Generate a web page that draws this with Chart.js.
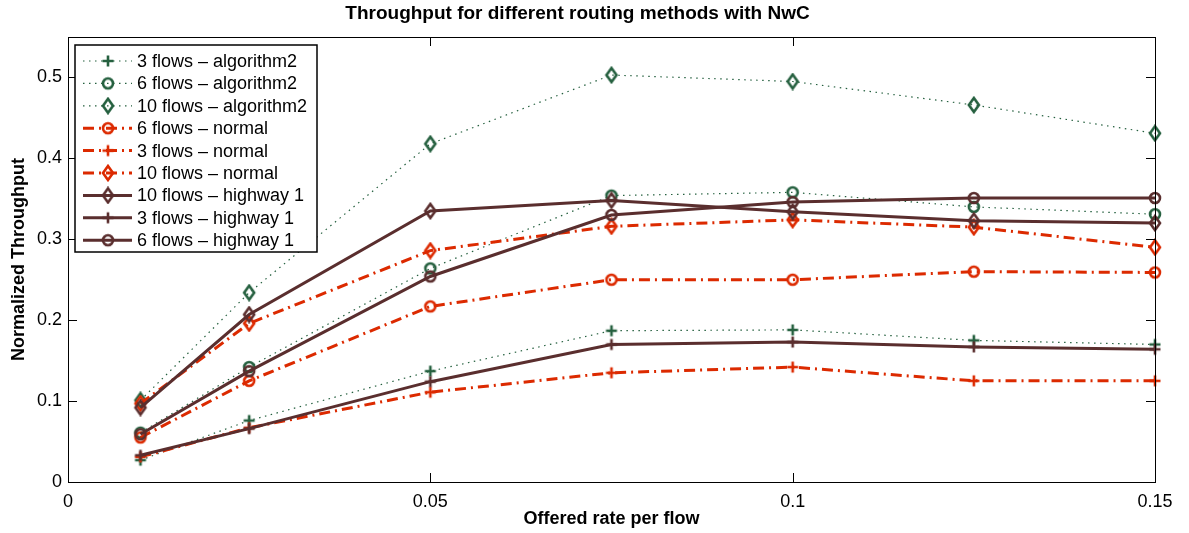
<!DOCTYPE html>
<html>
<head>
<meta charset="utf-8">
<script src="https://cdn.jsdelivr.net/npm/chart.js@4.4.1/dist/chart.umd.min.js"></script>
<style>
  html, body { margin: 0; padding: 0; background: #fff; }
</style>
</head>
<body>
<canvas id="c" width="1189" height="533"></canvas>
<script>
// offered rate per flow
var rates = [0.01, 0.025, 0.05, 0.075, 0.1, 0.125, 0.15];

var alg3  = [0.027, 0.076, 0.137, 0.187, 0.188, 0.175, 0.170];
var alg6  = [0.061, 0.142, 0.264, 0.354, 0.358, 0.340, 0.331];
var alg10 = [0.101, 0.234, 0.418, 0.503, 0.495, 0.466, 0.431];

var norm6  = [0.055, 0.125, 0.217, 0.250, 0.250, 0.260, 0.259];
var norm3  = [0.031, 0.067, 0.111, 0.135, 0.142, 0.125, 0.125];
var norm10 = [0.097, 0.196, 0.286, 0.316, 0.324, 0.315, 0.290];

var hw10 = [0.092, 0.207, 0.335, 0.348, 0.334, 0.323, 0.320];
var hw3  = [0.033, 0.066, 0.124, 0.170, 0.173, 0.167, 0.164];
var hw6  = [0.059, 0.137, 0.254, 0.330, 0.346, 0.351, 0.351];

var xTicks = [0, 0.05, 0.1, 0.15];
var yTicks = [0, 0.1, 0.2, 0.3, 0.4, 0.5];

var FONT = "'Liberation Sans', Arial, Helvetica, sans-serif";
var GREEN = '#25603f';
var RED = '#dc2a00';
var BROWN = '#5a2e2e';

var styles = {
    alg:     { color: GREEN, width: 1.2, dash: [1.5, 4.5] },
    normal:  { color: RED,   width: 3,   dash: [11, 5, 2, 5] },
    highway: { color: BROWN, width: 3,   dash: [] }
};

var series = [
    { label: '3 flows \u2013 algorithm2',  data: alg3,   kind: 'alg',     marker: 'plus' },
    { label: '6 flows \u2013 algorithm2',  data: alg6,   kind: 'alg',     marker: 'circle' },
    { label: '10 flows \u2013 algorithm2', data: alg10,  kind: 'alg',     marker: 'diamond' },
    { label: '6 flows \u2013 normal',      data: norm6,  kind: 'normal',  marker: 'circle' },
    { label: '3 flows \u2013 normal',      data: norm3,  kind: 'normal',  marker: 'plus' },
    { label: '10 flows \u2013 normal',     data: norm10, kind: 'normal',  marker: 'diamond' },
    { label: '10 flows \u2013 highway 1',  data: hw10,   kind: 'highway', marker: 'diamond' },
    { label: '3 flows \u2013 highway 1',   data: hw3,    kind: 'highway', marker: 'plus' },
    { label: '6 flows \u2013 highway 1',   data: hw6,    kind: 'highway', marker: 'circle' }
];

// small canvases used as point styles (open markers)
function makeMarker(shape, color) {
    var c = document.createElement('canvas');
    c.width = 18;
    c.height = 18;
    var g = c.getContext('2d');
    g.strokeStyle = color;
    g.lineWidth = 2.6;
    g.translate(9, 9);
    g.beginPath();
    if (shape === 'plus') {
        g.moveTo(-5.5, 0); g.lineTo(5.5, 0);
        g.moveTo(0, -5.5); g.lineTo(0, 5.5);
    } else if (shape === 'circle') {
        g.arc(0, 0, 5, 0, Math.PI * 2);
    } else {
        g.moveTo(0, -7); g.lineTo(5, 0); g.lineTo(0, 7); g.lineTo(-5, 0);
        g.closePath();
    }
    g.stroke();
    return c;
}

var datasets = series.map(function (s, i) {
    var st = styles[s.kind];
    return {
        label: s.label,
        data: rates.map(function (r, j) { return { x: r, y: s.data[j] }; }),
        borderColor: st.color,
        borderWidth: st.width,
        borderDash: st.dash,
        pointStyle: makeMarker(s.marker, st.color),
        pointRadius: 6,
        tension: 0,
        fill: false,
        clip: false,
        order: series.length - i
    };
});

function fmt(v) {
    return String(+Number(v).toFixed(3));
}

var frame = {
    id: 'frame',
    afterDraw: function (chart) {
        var a = chart.chartArea, ctx = chart.ctx;
        var xs = chart.scales.x, ys = chart.scales.y;
        var L = 9;
        ctx.save();
        ctx.strokeStyle = '#000';
        ctx.lineWidth = 1;
        ctx.setLineDash([]);
        ctx.strokeRect(a.left + 0.5, a.top + 0.5, a.right - a.left, a.bottom - a.top);
        ctx.beginPath();
        xTicks.forEach(function (v) {
            var px = Math.round(xs.getPixelForValue(v)) + 0.5;
            ctx.moveTo(px, a.bottom); ctx.lineTo(px, a.bottom - L);
            ctx.moveTo(px, a.top); ctx.lineTo(px, a.top + L);
        });
        yTicks.forEach(function (v) {
            var py = Math.round(ys.getPixelForValue(v)) + 0.5;
            ctx.moveTo(a.left, py); ctx.lineTo(a.left + L, py);
            ctx.moveTo(a.right, py); ctx.lineTo(a.right - L, py);
        });
        ctx.stroke();

        // legend box, top left inside the axes
        var bx = a.left + 7, by = a.top + 8, bw = 242, bh = 207;
        ctx.fillStyle = '#fff';
        ctx.fillRect(bx, by, bw, bh);
        ctx.lineWidth = 1.5;
        ctx.strokeRect(bx, by, bw, bh);
        ctx.font = '18px ' + FONT;
        ctx.textBaseline = 'middle';
        ctx.textAlign = 'left';
        chart.data.datasets.forEach(function (ds, i) {
            var y = by + 16 + i * 22.4;
            ctx.strokeStyle = ds.borderColor;
            ctx.lineWidth = ds.borderWidth;
            ctx.setLineDash(ds.borderDash);
            ctx.beginPath();
            ctx.moveTo(bx + 8, y);
            ctx.lineTo(bx + 57, y);
            ctx.stroke();
            ctx.setLineDash([]);
            var m = ds.pointStyle;
            ctx.drawImage(m, bx + 33 - m.width / 2, y - m.height / 2);
            ctx.fillStyle = '#000';
            ctx.fillText(ds.label, bx + 62, y + 1);
        });
        ctx.restore();
    }
};

new Chart(document.getElementById('c').getContext('2d'), {
    type: 'line',
    data: { datasets: datasets },
    options: {
        responsive: false,
        animation: false,
        layout: { padding: { left: 0, right: 34, top: 0, bottom: 0 } },
        plugins: {
            legend: { display: false },
            tooltip: { enabled: false },
            title: {
                display: true,
                text: 'Throughput for different routing methods with NwC',
                color: '#000',
                font: { family: FONT, size: 19, weight: 'bold' },
                padding: { top: 2, bottom: 12.2 }
            }
        },
        scales: {
            x: {
                type: 'linear',
                min: 0,
                max: 0.15,
                grid: { display: false, drawTicks: false },
                border: { display: false },
                afterBuildTicks: function (s) {
                    s.ticks = xTicks.map(function (v) { return { value: v }; });
                },
                afterFit: function (s) { s.height = 51; },
                ticks: {
                    color: '#000',
                    font: { family: FONT, size: 18 },
                    padding: 9,
                    maxRotation: 0,
                    callback: fmt
                },
                title: {
                    display: true,
                    text: 'Offered rate per flow',
                    color: '#000',
                    font: { family: FONT, size: 18, weight: 'bold' },
                    padding: { top: 0, bottom: 3 }
                }
            },
            y: {
                min: 0,
                max: 0.55,
                grid: { display: false, drawTicks: false },
                border: { display: false },
                afterBuildTicks: function (s) {
                    s.ticks = yTicks.map(function (v) { return { value: v }; });
                },
                afterFit: function (s) { s.width = 68; },
                ticks: {
                    color: '#000',
                    font: { family: FONT, size: 18 },
                    padding: 6,
                    callback: fmt
                },
                title: {
                    display: true,
                    text: 'Normalized Throughput',
                    color: '#000',
                    font: { family: FONT, size: 18, weight: 'bold' },
                    padding: { top: 8, bottom: 0 }
                }
            }
        }
    },
    plugins: [frame]
});
</script>
</body>
</html>
